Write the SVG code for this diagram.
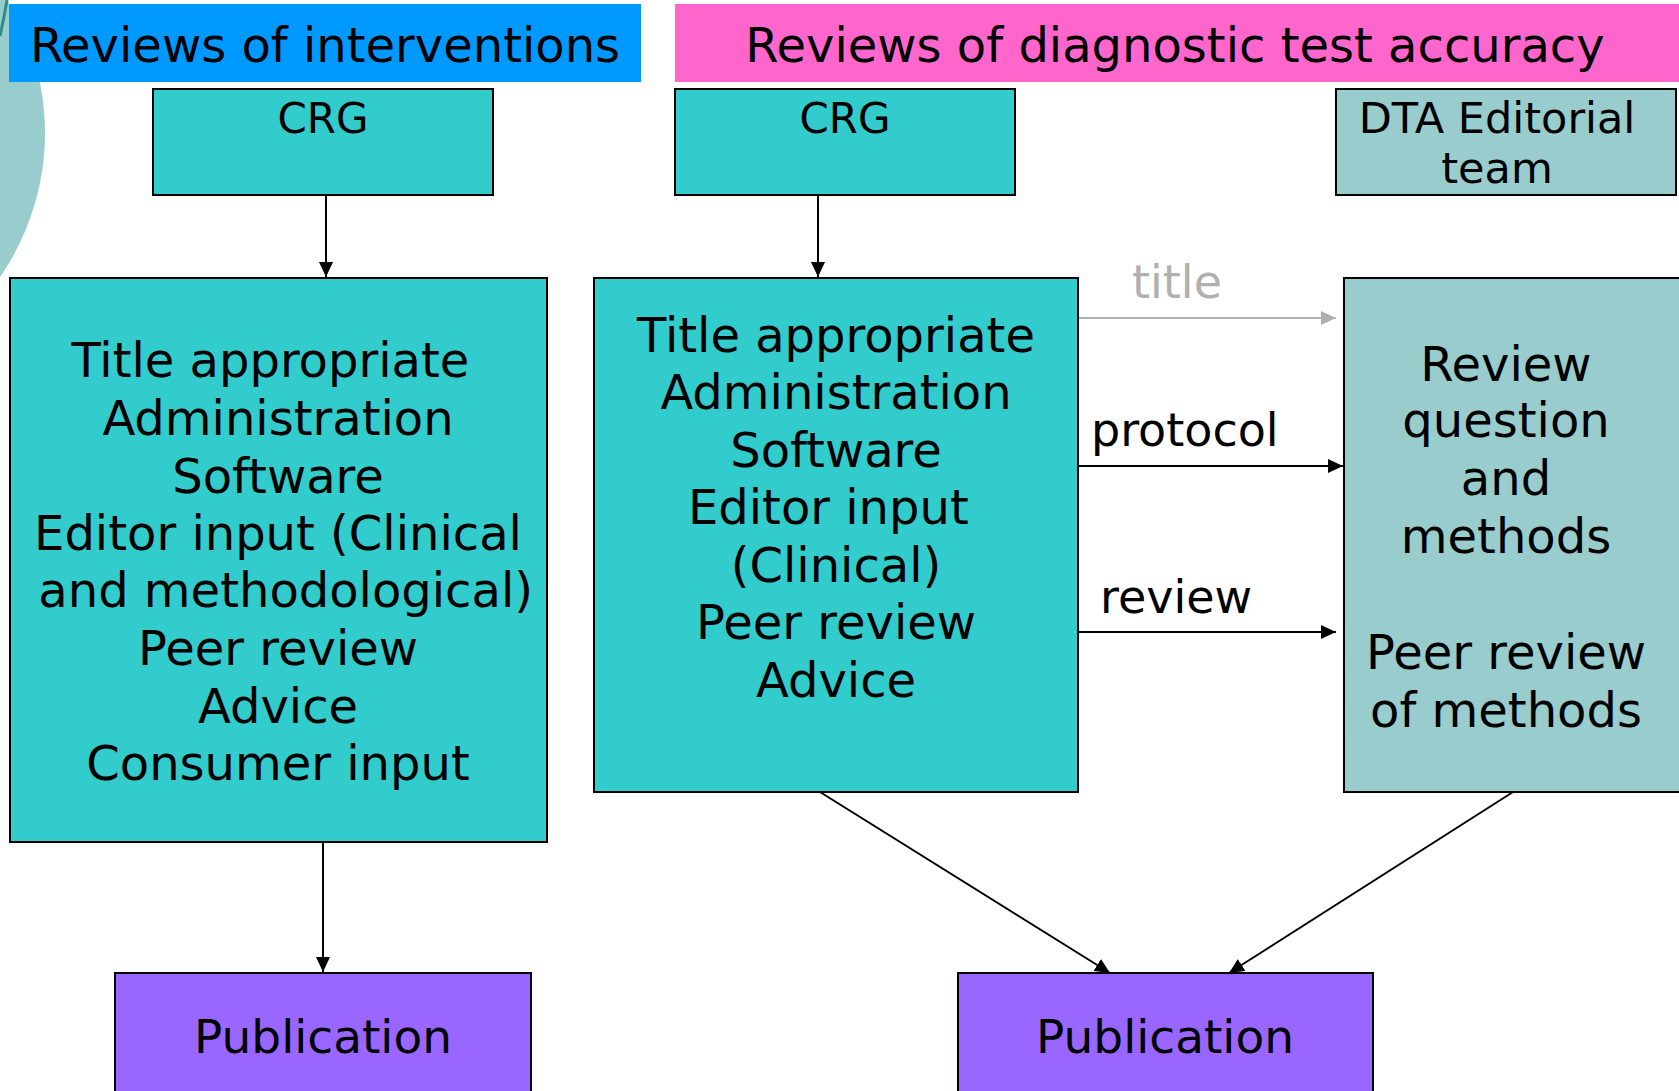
<svg xmlns="http://www.w3.org/2000/svg" width="1679" height="1091" viewBox="0 0 1679 1091">
<style>
text{font-family:"DejaVu Sans",Verdana,"Liberation Sans",sans-serif;fill:#000;text-anchor:middle}
.h{font-size:48px}
.b{font-size:48px}
.s{font-size:42px}
.lbl{font-size:46px;text-anchor:start}
.box{stroke:#000;stroke-width:2}
.teal{fill:#33CCCC}
.grey{fill:#99CCCC}
.pub{fill:#9966FF}
.c{stroke:#000;stroke-width:2;fill:none}
</style>
<defs>
<marker id="ah" markerUnits="userSpaceOnUse" markerWidth="15" markerHeight="14" refX="15" refY="7" orient="auto"><path d="M0,0 L15,7 L0,14 z" fill="#000"/></marker>
<marker id="ahg" markerUnits="userSpaceOnUse" markerWidth="15" markerHeight="14" refX="15" refY="7" orient="auto"><path d="M0,0 L15,7 L0,14 z" fill="#B0B0B0"/></marker>
</defs>
<rect width="1679" height="1091" fill="#fff"/>
<circle cx="-208" cy="133" r="253" fill="#99CCCC"/>
<path d="M0,36 Q4,18 7,0" stroke="#2A8C8C" stroke-width="3" fill="none"/>

<g id="header-interventions">
<rect x="9" y="4" width="632" height="78" fill="#0099FF"/>
<text class="h" x="325" y="62">Reviews of interventions</text>
</g>
<g id="header-dta">
<rect x="675" y="4" width="1004" height="78" fill="#FF66CC"/>
<text class="h" x="1175" y="62">Reviews of diagnostic test accuracy</text>
</g>

<g id="crg-left">
<rect class="box teal" x="153" y="89" width="340" height="106"/>
<text class="s" x="323" y="133">CRG</text>
</g>
<g id="crg-right">
<rect class="box teal" x="675" y="89" width="340" height="106"/>
<text class="s" x="845" y="133">CRG</text>
</g>
<g id="dta-team">
<rect class="box grey" x="1336" y="89" width="340" height="106"/>
<text class="s" x="1497" y="133" style="font-size:43px">DTA Editorial</text>
<text class="s" x="1497" y="183" style="font-size:43px">team</text>
</g>

<g id="tasks-left">
<rect class="box teal" x="10" y="278" width="537" height="564"/>
<text class="b" x="278" y="377">Title appropriate&#160;</text>
<text class="b" x="278" y="435">Administration</text>
<text class="b" x="278" y="493">Software</text>
<text class="b" x="278" y="550">Editor input (Clinical</text>
<text class="b" x="278" y="607">&#160;and methodological)</text>
<text class="b" x="278" y="665">Peer review</text>
<text class="b" x="278" y="723">Advice</text>
<text class="b" x="278" y="780">Consumer input</text>
</g>
<g id="tasks-middle">
<rect class="box teal" x="594" y="278" width="484" height="514"/>
<text class="b" x="836" y="352">Title appropriate</text>
<text class="b" x="836" y="409">Administration</text>
<text class="b" x="836" y="467">Software</text>
<text class="b" x="836" y="524">Editor input&#160;</text>
<text class="b" x="836" y="582">(Clinical)</text>
<text class="b" x="836" y="639">Peer review</text>
<text class="b" x="836" y="697">Advice</text>
</g>
<g id="tasks-right">
<rect class="box grey" x="1344" y="278" width="346" height="514"/>
<text class="b" x="1506" y="381">Review</text>
<text class="b" x="1506" y="437">question</text>
<text class="b" x="1506" y="495">and</text>
<text class="b" x="1506" y="553">methods</text>
<text class="b" x="1506" y="669">Peer review</text>
<text class="b" x="1506" y="727">of methods</text>
</g>

<g id="pub-left">
<rect class="box pub" x="115" y="973" width="416" height="130"/>
<text class="b" x="323" y="1053" style="font-size:47px">Publication</text>
</g>
<g id="pub-right">
<rect class="box pub" x="958" y="973" width="415" height="130"/>
<text class="b" x="1165" y="1053" style="font-size:47px">Publication</text>
</g>

<g id="connectors">
<line class="c" x1="326" y1="195" x2="326" y2="277" marker-end="url(#ah)"/>
<line class="c" x1="818" y1="195" x2="818" y2="277" marker-end="url(#ah)"/>
<line class="c" x1="323" y1="842" x2="323" y2="972" marker-end="url(#ah)"/>
<line x1="1079" y1="318" x2="1336" y2="318" stroke="#B0B0B0" stroke-width="2" marker-end="url(#ahg)"/>
<line class="c" x1="1079" y1="466" x2="1343" y2="466" marker-end="url(#ah)"/>
<line class="c" x1="1079" y1="632" x2="1336" y2="632" marker-end="url(#ah)"/>
<line class="c" x1="820" y1="792" x2="1110" y2="973" marker-end="url(#ah)"/>
<line class="c" x1="1513" y1="792" x2="1229" y2="973" marker-end="url(#ah)"/>
<text class="lbl" x="1132" y="298" style="fill:#B0B0B0">title</text>
<text class="lbl" x="1091" y="446">protocol</text>
<text class="lbl" x="1100" y="613">review</text>
</g>
</svg>
